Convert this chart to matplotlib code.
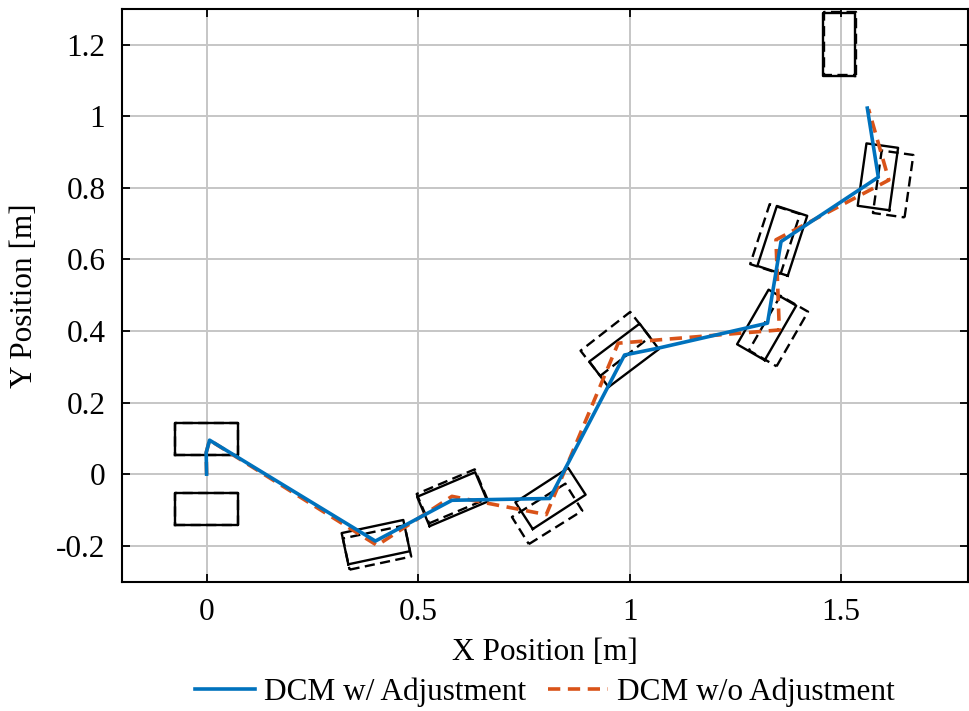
import numpy as np
import matplotlib.pyplot as plt

plt.rcParams['font.family'] = ['Liberation Serif', 'DejaVu Serif']
plt.rcParams['font.size'] = 22.5
plt.rcParams['axes.unicode_minus'] = False

BLUE = '#0072BD'
ORANGE = '#D95319'

# DCM path with step adjustment
dcm_adj_x = [0.0, -0.001, 0.007, 0.399, 0.580, 0.811, 0.988, 1.067, 1.326, 1.358, 1.588, 1.562]
dcm_adj_y = [0.0, 0.060, 0.095, -0.187, -0.073, -0.068, 0.333, 0.352, 0.422, 0.650, 0.830, 1.023]

# DCM path without adjustment
dcm_raw_x = [0.0, -0.001, 0.007, 0.403, 0.580, 0.803, 0.973, 1.354, 1.346, 1.613, 1.565]
dcm_raw_y = [0.0, 0.060, 0.095, -0.199, -0.062, -0.113, 0.366, 0.403, 0.655, 0.822, 1.020]

# footstep centres and yaw [deg]
step_adj_x = [0.0, 0.0, 0.400, 0.581, 0.813, 0.987, 1.324, 1.361, 1.587, 1.496]
step_adj_y = [0.098, -0.098, -0.190, -0.070, -0.068, 0.332, 0.417, 0.652, 0.831, 1.200]
step_adj_yaw = [0, 0, 12, 23, 33, 37, 60, 72, 82, 90]

step_raw_x = [0.0, 0.0, 0.403, 0.580, 0.805, 0.966, 1.352, 1.344, 1.623, 1.498]
step_raw_y = [0.098, -0.098, -0.205, -0.062, -0.111, 0.364, 0.400, 0.657, 0.811, 1.203]
step_raw_yaw = [0, 0, 12, 23, 32, 38, 60, 72, 82, 90]

FOOT_L = 0.149
FOOT_W = 0.0755

xlim = (-0.2, 1.8)
ylim = (-0.3, 1.3)
xticks = [0, 0.5, 1, 1.5]
xticklabels = ['0', '0.5', '1', '1.5']
yticks = [-0.2, 0, 0.2, 0.4, 0.6, 0.8, 1.0, 1.2]
yticklabels = ['-0.2', '0', '0.2', '0.4', '0.6', '0.8', '1', '1.2']

W, H = 969, 711
fig = plt.figure(figsize=(W / 100, H / 100), dpi=100)
left, right, top, bottom = 122, 968, 9, 581.5
ax = fig.add_axes([left / W, 1 - bottom / H, (right - left) / W, (bottom - top) / H])

# feet keep their on-screen proportions, so stretch y by the axes scale ratio
sx = (right - left) / (xlim[1] - xlim[0])
sy = (bottom - top) / (ylim[1] - ylim[0])
k = sx / sy


def foot_outline(cx, cy, yaw):
    c, s = np.cos(np.radians(yaw)), np.sin(np.radians(yaw))
    lx = np.array([-1, 1, 1, -1, -1]) * FOOT_L / 2
    ly = np.array([-1, -1, 1, 1, -1]) * FOOT_W / 2
    return cx + c * lx - s * ly, cy + (s * lx + c * ly) * k


for cx, cy, yaw in zip(step_raw_x, step_raw_y, step_raw_yaw):
    fx, fy = foot_outline(cx, cy, yaw)
    ax.plot(fx, fy, color='black', lw=1.7, linestyle=(0, (4.3, 2.3)), zorder=2)

for cx, cy, yaw in zip(step_adj_x, step_adj_y, step_adj_yaw):
    fx, fy = foot_outline(cx, cy, yaw)
    ax.plot(fx, fy, color='black', lw=1.7, zorder=2)

ax.plot(dcm_raw_x, dcm_raw_y, color=ORANGE, lw=2.6, linestyle=(0, (3.4, 2.1)),
        label='DCM w/o Adjustment', zorder=3)
ax.plot(dcm_adj_x, dcm_adj_y, color=BLUE, lw=2.6, label='DCM w/ Adjustment', zorder=4)

ax.set_xlim(*xlim)
ax.set_ylim(*ylim)
ax.set_xticks(xticks)
ax.set_xticklabels(xticklabels)
ax.set_yticks(yticks)
ax.set_yticklabels(yticklabels)
ax.grid(True, color='#c6c6c6', lw=1.4)
ax.set_axisbelow(True)
ax.tick_params(direction='in', length=5.5, width=1.3, top=True, right=True, pad=12)
for sp in ax.spines.values():
    sp.set_linewidth(1.5)

ax.set_xlabel('X Position [m]', labelpad=8)
ax.set_ylabel('Y Position [m]', labelpad=12)

handles, labels = ax.get_legend_handles_labels()
fig.legend(handles[::-1], labels[::-1], loc='center', bbox_to_anchor=(545 / W, 1 - 692 / H),
           ncol=2, frameon=False, handlelength=1.9, handletextpad=0.3, columnspacing=0.7,
           borderpad=0)

fig.savefig('out.png', dpi=100)
